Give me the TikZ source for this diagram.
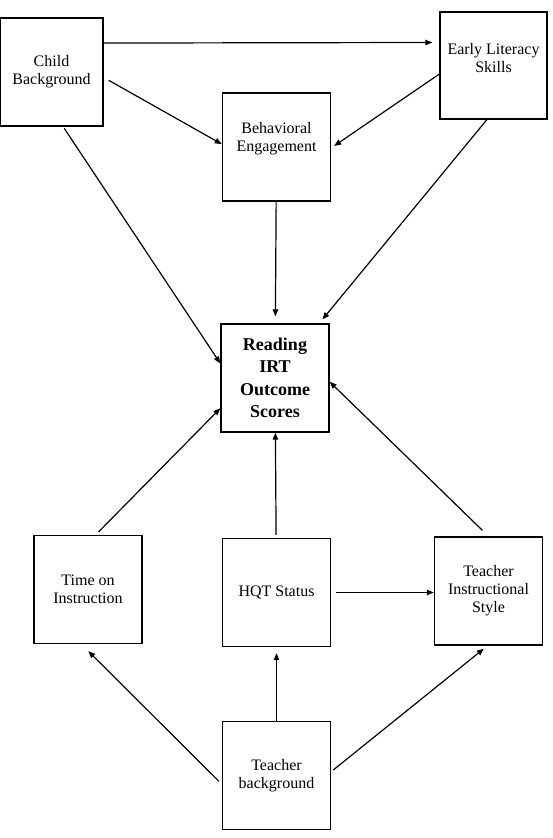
\documentclass[tikz,border=0pt]{standalone}
\usepackage{fontspec}
\setmainfont{Liberation Serif}
\usetikzlibrary{arrows.meta}
\tikzset{
  varbox/.style={rectangle, draw=black, line width=1.4pt, minimum width=108pt,
    minimum height=108pt, align=center, inner sep=2pt,
    font=\fontsize{16}{18}\selectfont},
  outbox/.style={varbox, font=\fontsize{18}{22.5}\selectfont\bfseries},
  arr/.style={-{Triangle[length=7pt,width=5.5pt]}, line width=1.2pt},
}
\begin{document}
\begin{tikzpicture}[x=1pt,y=1pt]
  \useasboundingbox (0,0) rectangle (552,838);
  % variables
  \node[varbox, minimum width=103pt] (child) at (51.5,766) {Child\\Background};
  \node[varbox, minimum width=107pt, minimum height=107pt, text depth=15pt]
    (early) at (493.5,772.5) {Early Literacy\\Skills};
  \node[varbox, text depth=19.5pt] (behav) at (276.5,691) {Behavioral\\Engagement};
  \node[outbox] (reading) at (275,460) {Reading\\IRT\\Outcome\\Scores};
  \node[varbox] (time) at (88,248.5) {Time on\\Instruction};
  \node[varbox] (hqt) at (276.5,245.5) {HQT Status};
  \node[varbox] (style) at (488.5,247) {Teacher\\Instructional\\Style};
  \node[varbox] (tbg) at (276.5,62.5) {Teacher\\background};
  % paths
  \draw[arr, shorten >=7pt] (child.29.4) -- (early.157.2);
  \draw[arr, shorten <=5.7pt] (child.-6.9) -- (behav.177.9);
  \draw[arr, shorten >=3.6pt] (early.189) -- (behav.-1);
  \draw[arr, shorten <=2pt] (child.-78) -- (reading.165.5);
  \draw[arr, shorten >=7pt] (behav) -- (reading);
  \draw[arr, shorten >=5pt] (early.-97.7) -- (reading.51.6);
  \draw[arr, shorten <=4pt] (time.82.7) -- (reading.209.9);
  \draw[arr, shorten <=3pt] (hqt) -- (reading);
  \draw[arr, shorten <=8.5pt] (style.north) -- (reading.-4.2);
  \draw[arr, shorten <=5pt] (hqt.east) -- (hqt.east -| style.west);
  \draw[arr, shorten <=4pt, shorten >=9.9pt] (tbg.189.9) -- (time.-97.3);
  \draw[arr, shorten >=6pt] (tbg) -- (hqt);
  \draw[arr, shorten <=2.6pt, shorten >=4.8pt] (tbg.4.1) -- (style.-91.9);
\end{tikzpicture}
\end{document}
